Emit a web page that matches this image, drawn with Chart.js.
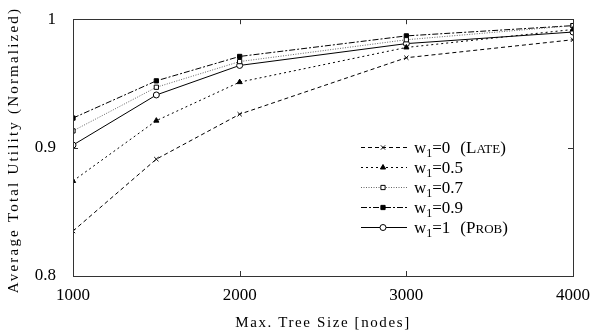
<!DOCTYPE html>
<html>
<head>
<meta charset="utf-8">
<script src="https://cdn.jsdelivr.net/npm/chart.js@4/dist/chart.umd.min.js"></script>
<style>
  html, body { margin: 0; padding: 0; background: #fff; }
  #wrap { width: 594px; height: 336px; }
</style>
</head>
<body>
<div id="wrap"><canvas id="utilChart" width="594" height="336"></canvas></div>
<script>
// tree sizes on the x axis
const treeSizes = [1000, 1500, 2000, 3000, 4000];
const xTicks = [1000, 2000, 3000, 4000];
const yTicks = [0.8, 0.9, 1];

// average total utility per weight setting
const late = [0.835, 0.891, 0.926, 0.970, 0.984];
const w05 = [0.874, 0.921, 0.951, 0.978, 0.992];
const w07 = [0.913, 0.947, 0.967, 0.984, 0.995];
const w09 = [0.923, 0.952, 0.971, 0.987, 0.995];
const prob = [0.902, 0.941, 0.964, 0.981, 0.990];

const legendNames = [
    ['0', 'LATE'],
    ['0.5', null],
    ['0.7', null],
    ['0.9', null],
    ['1', 'PROB']
];

const serif = '"Liberation Serif", "DejaVu Serif", serif';

function pts(vals) {
    return vals.map(function(v, i) { return { x: treeSizes[i], y: v }; });
}

function series(label, vals, dash, color, marker, fill) {
    return {
        label: label,
        data: pts(vals),
        borderColor: color,
        borderWidth: 1,
        borderDash: dash,
        pointStyle: marker,
        pointRadius: 3,
        pointBorderWidth: 1,
        pointBorderColor: '#000',
        pointBackgroundColor: fill,
        tension: 0,
        fill: false
    };
}

// frame, inward ticks, axis titles and the legend, drawn gnuplot style
const decorPlugin = {
    id: 'decor',
    afterDraw: function(chart) {
        const ctx = chart.ctx;
        const a = chart.chartArea;
        const xs = chart.scales.x, ys = chart.scales.y;
        ctx.save();
        ctx.strokeStyle = '#333';
        ctx.lineWidth = 1;
        ctx.setLineDash([]);
        ctx.strokeRect(Math.round(a.left) + 0.5, Math.round(a.top) + 0.5,
            Math.round(a.right - a.left), Math.round(a.bottom - a.top));
        ctx.beginPath();
        xTicks.forEach(function(t) {
            const px = Math.round(xs.getPixelForValue(t)) + 0.5;
            ctx.moveTo(px, a.bottom); ctx.lineTo(px, a.bottom - 5);
            ctx.moveTo(px, a.top); ctx.lineTo(px, a.top + 5);
        });
        yTicks.forEach(function(t) {
            const py = Math.round(ys.getPixelForValue(t)) + 0.5;
            ctx.moveTo(a.left, py); ctx.lineTo(a.left + 5, py);
            ctx.moveTo(a.right, py); ctx.lineTo(a.right - 5, py);
        });
        ctx.stroke();

        // axis titles
        ctx.fillStyle = '#000';
        ctx.font = '15px ' + serif;
        ctx.letterSpacing = '1.6px';
        ctx.textAlign = 'center';
        ctx.textBaseline = 'middle';
        ctx.fillText('Max. Tree Size [nodes]', (a.left + a.right) / 2, 323);
        ctx.letterSpacing = '2.2px';
        ctx.translate(14, 150);
        ctx.rotate(-Math.PI / 2);
        ctx.fillText('Average Total Utility (Normalized)', 0, 0);
        ctx.restore();

        // legend
        ctx.save();
        const ds = chart.data.datasets;
        ds.forEach(function(d, i) {
            const y = 147 + i * 20;
            ctx.strokeStyle = d.borderColor;
            ctx.lineWidth = 1;
            ctx.setLineDash(d.borderDash);
            ctx.beginPath();
            ctx.moveTo(361, y + 0.5);
            ctx.lineTo(407, y + 0.5);
            ctx.stroke();
            ctx.setLineDash([]);
            ctx.strokeStyle = '#000';
            ctx.fillStyle = d.pointBackgroundColor;
            Chart.helpers.drawPoint(ctx, {
                pointStyle: d.pointStyle, radius: 3, borderWidth: 1, rotation: 0
            }, 383, y + 0.5);

            ctx.fillStyle = '#000';
            ctx.textAlign = 'left';
            ctx.textBaseline = 'alphabetic';
            const base = y + 6;
            let x = 414;
            ctx.font = '17px ' + serif;
            ctx.fillText('w', x, base);
            x += ctx.measureText('w').width;
            ctx.font = '12px ' + serif;
            ctx.fillText('1', x, base + 4);
            x += ctx.measureText('1').width;
            ctx.font = '17px ' + serif;
            const name = legendNames[i];
            let s = '=' + name[0];
            ctx.fillText(s, x, base);
            x += ctx.measureText(s).width;
            if (name[1]) {
                x += 10;
                ctx.fillText('(' + name[1][0], x, base);
                x += ctx.measureText('(' + name[1][0]).width;
                ctx.font = '13px ' + serif;
                ctx.fillText(name[1].slice(1), x, base);
                x += ctx.measureText(name[1].slice(1)).width;
                ctx.font = '17px ' + serif;
                ctx.fillText(')', x, base);
            }
        });
        ctx.restore();
    }
};

const ctx = document.getElementById('utilChart').getContext('2d');
const utilChart = new Chart(ctx, {
    type: 'line',
    data: {
        datasets: [
            series('w1=0 (Late)', late, [4, 3], '#000', 'crossRot', '#000'),
            series('w1=0.5', w05, [2, 3], '#000', 'triangle', '#000'),
            series('w1=0.7', w07, [1, 1.5], '#666', 'rect', '#fff'),
            series('w1=0.9', w09, [6, 2, 2, 2], '#000', 'rect', '#000'),
            series('w1=1 (Prob)', prob, [], '#000', 'circle', '#fff')
        ]
    },
    options: {
        responsive: false,
        animation: false,
        layout: { padding: { top: 17, right: 21, left: 0, bottom: 0 } },
        plugins: {
            legend: { display: false },
            tooltip: { enabled: false }
        },
        scales: {
            x: {
                type: 'linear',
                min: 1000,
                max: 4000,
                grid: { display: false },
                border: { display: false },
                ticks: {
                    stepSize: 1000,
                    padding: 1,
                    color: '#000',
                    font: { family: serif, size: 17 },
                    maxRotation: 0,
                    callback: function(v) { return String(v); }
                },
                afterFit: function(s) { s.height = 60; }
            },
            y: {
                min: 0.8,
                max: 1,
                grid: { display: false },
                border: { display: false },
                ticks: {
                    stepSize: 0.1,
                    padding: 9,
                    color: '#000',
                    font: { family: serif, size: 17 },
                    callback: function(v) { return String(Number(v.toFixed(1))); }
                },
                afterFit: function(s) { s.width = 73; }
            }
        }
    },
    plugins: [decorPlugin]
});
</script>
</body>
</html>
